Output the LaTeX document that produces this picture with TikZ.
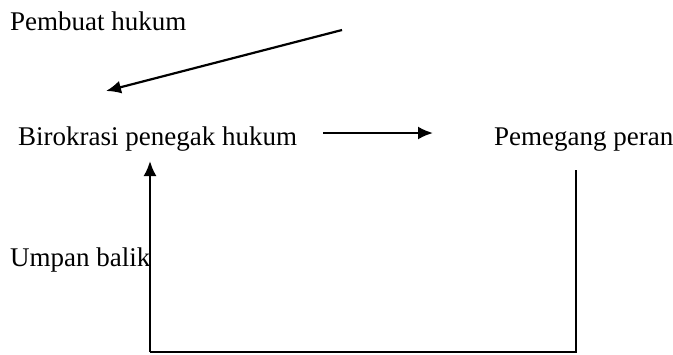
\documentclass[tikz,border=0pt]{standalone}
\usepackage{fontspec}
\setmainfont{Liberation Serif}
\usetikzlibrary{arrows.meta}
\begin{document}
\begin{tikzpicture}[x=1pt,y=-1pt,
  lbl/.style={anchor=base west,inner sep=0pt,font=\fontsize{27}{30}\selectfont},
  conn/.style={line width=2.2pt},
  arr/.style={conn,-{Latex[length=15pt,width=13pt]}}]
\useasboundingbox (0,0) rectangle (673,354);
\node[lbl] (pembuat) at (10,30) {Pembuat hukum};
\node[lbl] (birokrasi) at (18,145) {Birokrasi penegak hukum};
\node[lbl] (pemegang) at (494,145) {Pemegang peran};
\node[lbl] (umpan) at (10,266) {Umpan balik};
\coordinate (a1s) at (342,30);
\coordinate (a1e) at (106,91);
\coordinate (a2s) at (323,133);
\coordinate (a2e) at (433,133);
\coordinate (fbtop) at (150,161);
\coordinate (fbbl) at (150,352);
\coordinate (fbbr) at (576,352);
\coordinate (fbtr) at (576,170);
\draw[arr] (a1s) -- (a1e);
\draw[arr] (a2s) -- (a2e);
\draw[conn] (fbtr) -- (fbbr) -- (fbbl);
\draw[arr] (fbbl) -- (fbtop);
\end{tikzpicture}
\end{document}
